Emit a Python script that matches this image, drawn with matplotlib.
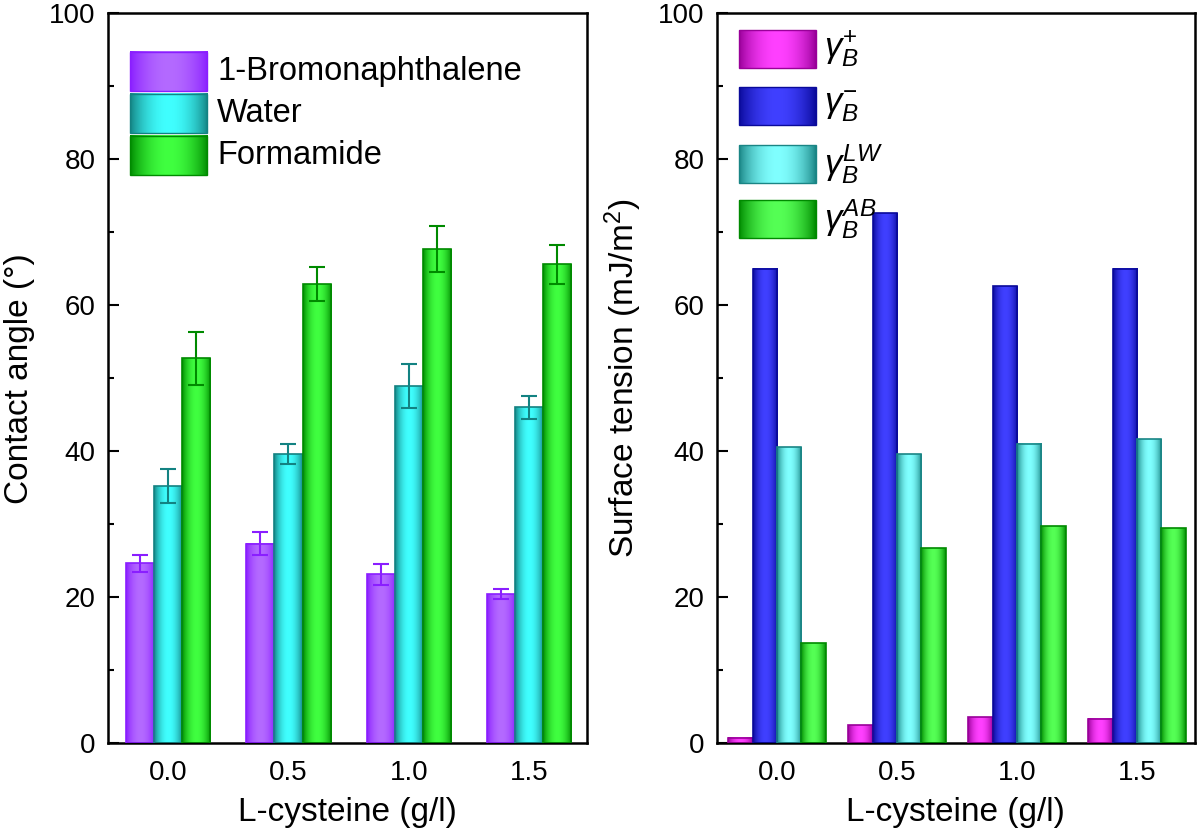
import numpy as np
import matplotlib
matplotlib.use('Agg')
import matplotlib.pyplot as plt
from matplotlib.colors import to_rgb
from matplotlib.patches import Rectangle
from matplotlib.ticker import MultipleLocator

plt.rcParams['font.family'] = ['Liberation Sans', 'DejaVu Sans']
plt.rcParams['mathtext.fontset'] = 'custom'
plt.rcParams['mathtext.rm'] = 'Liberation Sans'
plt.rcParams['mathtext.it'] = 'Liberation Sans:italic'

# L-cysteine concentration (g/l)
conc = [0.0, 0.5, 1.0, 1.5]
conc_labels = ['0.0', '0.5', '1.0', '1.5']

# contact angles (deg) with errors
bromo = [24.6, 27.3, 23.1, 20.4]
bromo_err = [1.2, 1.6, 1.4, 0.7]
water = [35.2, 39.6, 48.9, 46.0]
water_err = [2.3, 1.4, 3.0, 1.6]
formamide = [52.7, 62.9, 67.7, 65.6]
formamide_err = [3.6, 2.3, 3.1, 2.7]

# surface tension components (mJ/m2)
g_plus = [0.7, 2.4, 3.5, 3.3]
g_minus = [65.0, 72.6, 62.6, 65.0]
g_lw = [40.5, 39.6, 41.0, 41.6]
g_ab = [13.7, 26.7, 29.7, 29.4]

left_series = [
    ('1-Bromonaphthalene', bromo, bromo_err, '#8A1EFF', '#B46AFF'),
    ('Water', water, water_err, '#138282', '#40FFFF'),
    ('Formamide', formamide, formamide_err, '#008A00', '#40FF40'),
]
right_series = [
    (r'$\gamma_B^{+}$', g_plus, '#990099', '#FF40FF'),
    (r'$\gamma_B^{-}$', g_minus, '#0A0A9A', '#4040FF'),
    (r'$\gamma_B^{LW}$', g_lw, '#1A8585', '#80FFFF'),
    (r'$\gamma_B^{AB}$', g_ab, '#008A00', '#55FF55'),
]


def gradient(dark, light, n=64):
    t = np.linspace(0, 1, n)
    w = np.sin(np.pi * t) ** 0.8
    d = np.array(to_rgb(dark))
    l = np.array(to_rgb(light))
    return (d + (l - d) * w[:, None])[None, :, :]


def shaded_bars(ax, x, h, width, dark, light, yerr=None):
    bars = ax.bar(x, h, width, facecolor='none', edgecolor=dark, linewidth=1.2, zorder=3)
    img = gradient(dark, light)
    for b in bars:
        bx, by = b.get_x(), b.get_y()
        ax.imshow(img, extent=[bx, bx + b.get_width(), by, by + b.get_height()],
                  aspect='auto', interpolation='bilinear', zorder=2)
    if yerr is not None:
        ax.errorbar(x, h, yerr=yerr, fmt='none', ecolor=dark, elinewidth=1.5,
                    capsize=6, capthick=1.5, zorder=4)


def legend_entry(ax, x0, y0, w, h, dark, light, label, tx, size):
    ax.imshow(gradient(dark, light), extent=[x0, x0 + w, y0, y0 + h], aspect='auto',
              interpolation='bilinear', transform=ax.transAxes, zorder=5)
    ax.add_patch(Rectangle((x0, y0), w, h, transform=ax.transAxes, facecolor='none',
                           edgecolor=dark, linewidth=1, zorder=6))
    ax.text(tx, y0 + h / 2, label, transform=ax.transAxes, fontsize=size,
            va='center', ha='left', zorder=6)


def style_axes(ax, ylabel):
    ax.set_xlim(-0.25, 1.74)
    ax.set_ylim(0, 100)
    ax.set_xticks(conc)
    ax.set_xticklabels(conc_labels)
    ax.yaxis.set_major_locator(MultipleLocator(20))
    ax.yaxis.set_minor_locator(MultipleLocator(10))
    ax.tick_params(axis='both', direction='in', labelsize=20, width=1.5)
    ax.tick_params(axis='y', which='major', length=8, pad=9)
    ax.tick_params(axis='y', which='minor', length=4, width=1.5, direction='in')
    ax.tick_params(axis='x', which='major', length=8, pad=12)
    for s in ax.spines.values():
        s.set_linewidth(1.8)
    ax.set_xlabel('L-cysteine (g/l)', fontsize=24, labelpad=8)
    ax.set_ylabel(ylabel, fontsize=24, labelpad=10)


fig = plt.figure(figsize=(12, 8.32), dpi=100)
ax1 = fig.add_axes([0.09, 0.107, 0.399, 0.877])
ax2 = fig.add_axes([0.5975, 0.107, 0.398, 0.877])

x = np.array(conc)

# left panel: contact angles
bw = 0.117
for i, (name, vals, err, dark, light) in enumerate(left_series):
    shaded_bars(ax1, x + (i - 1) * bw, vals, bw, dark, light, yerr=err)
ys = [0.893, 0.836, 0.778]
for (name, vals, err, dark, light), y0 in zip(left_series, ys):
    legend_entry(ax1, 0.046, y0, 0.161, 0.054, dark, light, name, 0.228, 23.5)
style_axes(ax1, 'Contact angle (°)')

# right panel: surface tension components
bw2 = 0.102
for i, (name, vals, dark, light) in enumerate(right_series):
    shaded_bars(ax2, x + (i - 1.5) * bw2, vals, bw2, dark, light)
ys2 = [0.925, 0.847, 0.767, 0.692]
for (name, vals, dark, light), y0 in zip(right_series, ys2):
    legend_entry(ax2, 0.046, y0, 0.161, 0.052, dark, light, name, 0.224, 25)
style_axes(ax2, 'Surface tension (mJ/m$^2$)')

fig.savefig('out.png', dpi=100)
